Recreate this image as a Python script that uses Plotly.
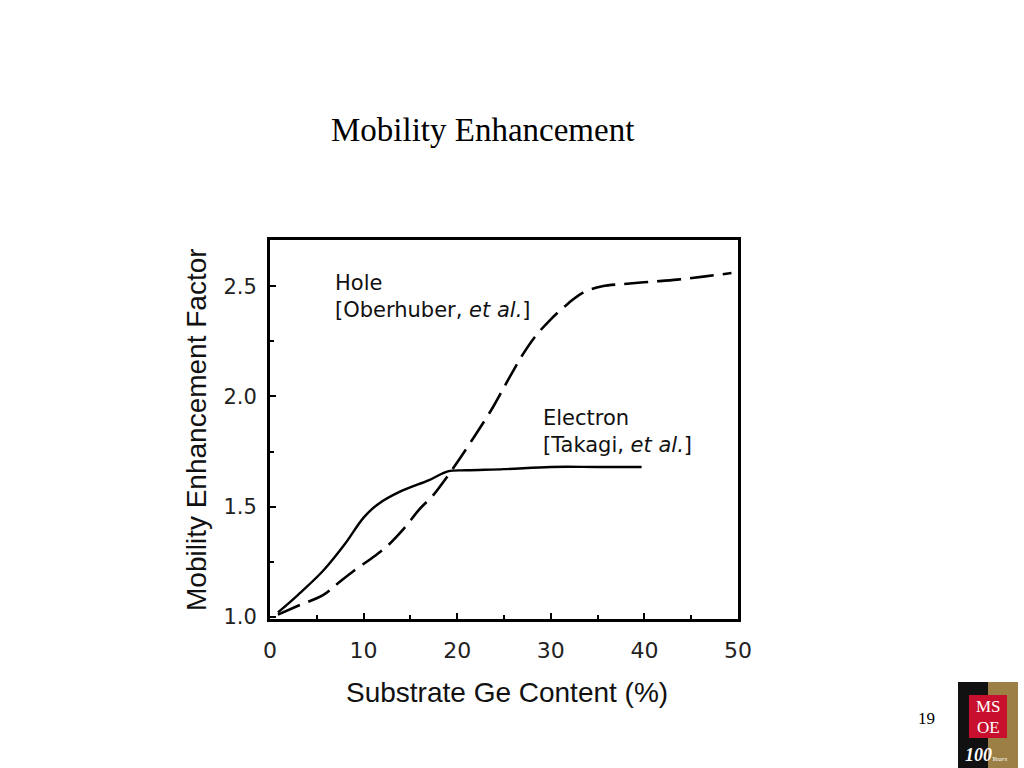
import plotly.graph_objects as go

# Data
hole_x = [0.85, 3.0, 5.7, 7.2, 9.0, 11.0, 12.5, 14.3, 16.0, 17.4, 19.0, 20.3, 21.4, 23.8, 25.5, 27.0, 28.3, 30.0, 31.8, 33.4, 35.5, 37.7, 40.5, 43.5, 46.5, 49.3]
hole_y = [1.01, 1.05, 1.10, 1.15, 1.21, 1.27, 1.32, 1.40, 1.49, 1.55, 1.64, 1.72, 1.79, 1.95, 2.08, 2.19, 2.27, 2.35, 2.42, 2.47, 2.50, 2.51, 2.52, 2.53, 2.545, 2.56]
elec_x = [0.85, 3.0, 5.7, 8.0, 10.0, 11.5, 14.0, 17.0, 19.0, 21.0, 25.0, 30.0, 35.0, 39.7]
elec_y = [1.02, 1.10, 1.21, 1.33, 1.45, 1.51, 1.57, 1.62, 1.66, 1.665, 1.67, 1.68, 1.68, 1.68]

x_ticks = [0, 10, 20, 30, 40, 50]
y_ticks = [1.0, 1.5, 2.0, 2.5]
y_tick_text = ["1.0", "1.5", "2.0", "2.5"]

axis_font = "Liberation Sans, Arial, sans-serif"
wide_font = "DejaVu Sans, Verdana, sans-serif"
serif_font = "Liberation Serif, Times New Roman, serif"

fig = go.Figure()
fig.add_trace(go.Scatter(x=hole_x, y=hole_y, mode="lines", name="Hole",
                         line=dict(color="black", width=2.6, dash="24px,9px", shape="spline")))
fig.add_trace(go.Scatter(x=elec_x, y=elec_y, mode="lines", name="Electron",
                         line=dict(color="black", width=2.4, shape="spline")))

fig.update_layout(
    width=1024, height=768,
    margin=dict(l=270, r=286, t=240, b=149),
    paper_bgcolor="white", plot_bgcolor="white",
    showlegend=False,
    xaxis=dict(range=[0, 50], tickvals=x_ticks, ticks="inside", ticklen=6, tickwidth=2,
               tickcolor="black", showgrid=False, zeroline=False,
               showline=True, linecolor="black", linewidth=3, mirror=True,
               tickfont=dict(family=wide_font, size=22, color="#222"),
               ticklabelstandoff=10,
               minor=dict(tickvals=[5, 15, 25, 35, 45], ticks="inside", ticklen=4, tickcolor="black"),
               fixedrange=True),
    yaxis=dict(range=[0.99, 2.71], tickvals=y_ticks, ticktext=y_tick_text, ticks="inside", ticklen=6,
               tickwidth=2, tickcolor="black", showgrid=False, zeroline=False,
               showline=True, linecolor="black", linewidth=3, mirror=True,
               tickfont=dict(family=wide_font, size=21, color="#222"),
               ticklabelstandoff=6,
               minor=dict(tickvals=[1.25, 1.75, 2.25], ticks="inside", ticklen=4, tickcolor="black"),
               fixedrange=True),
)

annotations = [
    dict(text="Mobility Enhancement", x=482, y=130, showarrow=False,
         font=dict(family=serif_font, size=33, color="black")),
    dict(text="Substrate Ge Content (%)", x=507, y=692, showarrow=False,
         font=dict(family=axis_font, size=28, color="#111")),
    dict(text="Mobility Enhancement Factor", x=196, y=430, textangle=-90, showarrow=False,
         font=dict(family=axis_font, size=28, color="#111")),
    dict(text="Hole<br>[Oberhuber, <i>et al.</i>]", x=333, y=296, showarrow=False, align="left",
         xanchor="left", font=dict(family=wide_font, size=21, color="#111")),
    dict(text="Electron<br>[Takagi, <i>et al.</i>]", x=541, y=431, showarrow=False, align="left",
         xanchor="left", font=dict(family=wide_font, size=21, color="#111")),
    dict(text="19", x=926, y=718, showarrow=False,
         font=dict(family=serif_font, size=17, color="black")),
    dict(text="MS", x=988, y=706, showarrow=False,
         font=dict(family=serif_font, size=17, color="white")),
    dict(text="OE", x=988, y=727, showarrow=False,
         font=dict(family=serif_font, size=17, color="white")),
    dict(text="<b><i>100</i></b><span style='font-size:7px'><i>Years</i></span>", x=986, y=755, showarrow=False,
         font=dict(family=serif_font, size=18, color="white")),
]
# convert pixel positions to paper coordinates for annotations
pl, pr, pt, pb = 270, 738, 240, 619
for a in annotations:
    px, py = a["x"], a["y"]
    a["x"] = (px - pl) / (pr - pl)
    a["y"] = (pb - py) / (pb - pt)
    a["xref"] = "paper"
    a["yref"] = "paper"
    if "xanchor" not in a:
        a["xanchor"] = "center"
    a["yanchor"] = "middle"
fig.update_layout(annotations=annotations)

def px_rect(x0, y0, x1, y1, color):
    return dict(type="rect", xref="paper", yref="paper",
                x0=(x0 - pl) / (pr - pl), x1=(x1 - pl) / (pr - pl),
                y0=(pb - y0) / (pb - pt), y1=(pb - y1) / (pb - pt),
                fillcolor=color, line=dict(width=0), layer="below")

fig.update_layout(shapes=[
    px_rect(958, 682, 988, 768, "#111111"),
    px_rect(988, 682, 1018, 768, "#9c7f45"),
    px_rect(969, 695, 1007, 738, "#c8102e"),
])

fig.write_html("out.html", config={"displayModeBar": False},
               post_script="document.body.style.margin='0';document.body.style.overflow='hidden';")
